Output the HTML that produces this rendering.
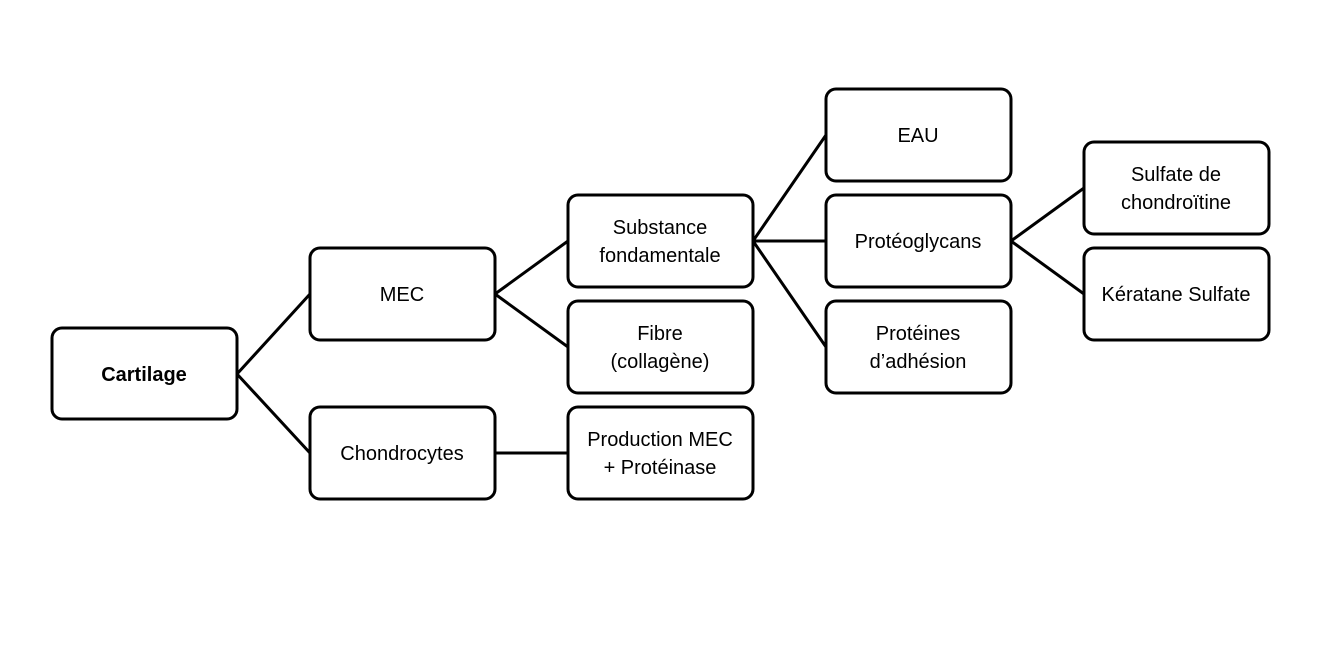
<!DOCTYPE html>
<html><head><meta charset="utf-8"><style>body{margin:0;background:#fff}svg{display:block}text{font-family:"Liberation Sans",sans-serif;font-size:20px;fill:#000;text-anchor:middle}</style></head>
<body><svg width="1334" height="646" viewBox="0 0 1334 646">
<g fill="#fff" stroke="#000" stroke-width="3">
<rect x="52" y="328" width="185" height="91" rx="10"/>
<rect x="310" y="248" width="185" height="92" rx="10"/>
<rect x="310" y="407" width="185" height="92" rx="10"/>
<rect x="568" y="195" width="185" height="92" rx="10"/>
<rect x="568" y="301" width="185" height="92" rx="10"/>
<rect x="568" y="407" width="185" height="92" rx="10"/>
<rect x="826" y="89" width="185" height="92" rx="10"/>
<rect x="826" y="195" width="185" height="92" rx="10"/>
<rect x="826" y="301" width="185" height="92" rx="10"/>
<rect x="1084" y="142" width="185" height="92" rx="10"/>
<rect x="1084" y="248" width="185" height="92" rx="10"/>
</g>
<g stroke="#000" stroke-width="3" fill="none">
<path d="M237 374L310 294M237 374L310 453"/>
<path d="M495 294L568 241M495 294L568 347"/>
<path d="M495 453L568 453"/>
<path d="M753 241L826 135M753 241L826 241M753 241L826 347"/>
<path d="M1011 241L1084 188M1011 241L1084 294"/>
</g>
<text x="144" y="381" font-weight="bold">Cartilage</text>
<text x="402" y="301">MEC</text>
<text x="402" y="460">Chondrocytes</text>
<text x="660" y="234">Substance</text><text x="660" y="262">fondamentale</text>
<text x="660" y="340">Fibre</text><text x="660" y="368">(collagène)</text>
<text x="660" y="446">Production MEC</text><text x="660" y="474">+ Protéinase</text>
<text x="918" y="142">EAU</text>
<text x="918" y="248">Protéoglycans</text>
<text x="918" y="340">Protéines</text><text x="918" y="368">d’adhésion</text>
<text x="1176" y="181">Sulfate de</text><text x="1176" y="209">chondroïtine</text>
<text x="1176" y="301">Kératane Sulfate</text>
</svg></body></html>
